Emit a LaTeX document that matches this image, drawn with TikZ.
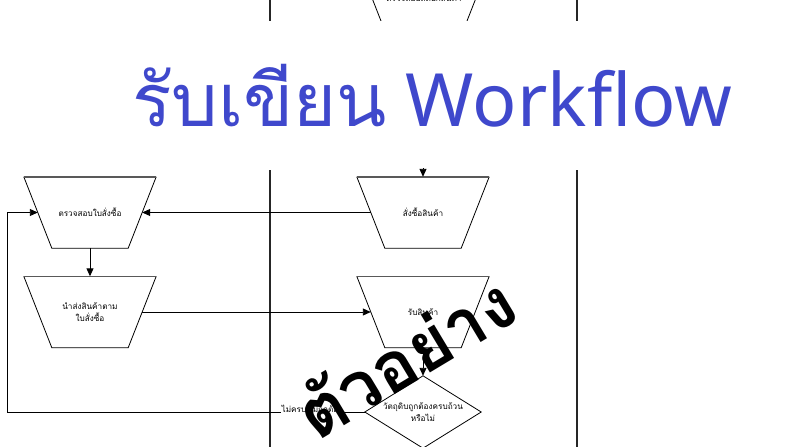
\documentclass[tikz,border=0pt]{standalone}
\usepackage{fontspec}
\setmainfont{Noto Sans}
\newfontfamily\thai[Script=Thai]{Loma}
\usetikzlibrary{arrows.meta,calc}
\definecolor{titleblue}{RGB}{63,72,204}
\tikzset{
  box/.style={rectangle, minimum width=132pt, minimum height=71pt, inner sep=0pt},
  trapline/.style={draw=black, line width=0.8pt},
  topedge/.style={draw=gray!70!black, line width=1.4pt},
  lbl/.style={font=\thai\fontsize{8.2}{12}\selectfont, align=center},
  conn/.style={line width=0.9pt, -{Triangle[length=8pt,width=7pt]}},
  lane/.style={draw=black!85, line width=1.5pt},
}
\newcommand{\mytrap}[4]{%
  \node[box] (#1) at (#2,#3) {};
  \node[lbl] (#1l) at (#1.center) {#4};
  \coordinate (#1w) at ($(#1.west)+(14,0)$);
  \coordinate (#1e) at ($(#1.east)+(-14,0)$);
  \draw[trapline] (#1.north west) -- ($(#1.south west)+(28,0)$) -- ($(#1.south east)+(-28,0)$) -- (#1.north east);
  \draw[topedge] (#1.north west) -- (#1.north east);
}
\begin{document}
\begin{tikzpicture}[x=1pt,y=-1pt]
\useasboundingbox[fill=white] (0,0) rectangle (795,447);
% lanes
\coordinate (la1) at (270,0); \coordinate (la2) at (270,20.5);
\coordinate (lb1) at (577,0); \coordinate (lb2) at (577,20.5);
\coordinate (la3) at (270,170); \coordinate (la4) at (270,447);
\coordinate (lb3) at (577,170); \coordinate (lb4) at (577,447);
\draw[lane] (la1) -- (la2); \draw[lane] (lb1) -- (lb2);
\draw[lane] (la3) -- (la4); \draw[lane] (lb3) -- (lb4);
% top partial shape
\begin{scope}
\clip (0,-5) rectangle (795,20.5);
\mytrap{t0}{424}{-2.5}{ตรวจสอบสต็อกสินค้า}
\end{scope}
% title
\node[font=\fontsize{73.5}{80}\selectfont, text=titleblue] (title) at (432,96) {{\thai รับเขียน} Workflow};
% shapes
\mytrap{t1}{90}{212.5}{ตรวจสอบใบสั่งซื้อ}
\mytrap{t2}{90}{312}{นำส่งสินค้าตาม\\ใบสั่งซื้อ}
\mytrap{t3}{423}{212.5}{สั่งซื้อสินค้า}
\mytrap{t4}{423}{312}{รับสินค้า}
% decision
\node[rectangle, minimum width=116pt, minimum height=72pt, inner sep=0pt] (d1) at (423,412) {};
\draw[trapline] (d1.north) -- (d1.east) -- (d1.south) -- (d1.west) -- cycle;
\node[lbl] (d1l) at (d1.center) {วัตถุดิบถูกต้องครบถ้วน\\หรือไม่};
% connectors
\coordinate (in3) at (423,168);
\draw[conn] (in3) -- (t3.north);
\draw[conn] (t3w) -- (t1e);
\draw[conn] (t1.south) -- (t2.north);
\draw[conn] (t2e) -- (t4w);
\draw[conn] (t4.south) -- (d1.north);
\coordinate (c1) at (7,412);
\coordinate (c2) at (7,212.5);
\draw[conn] (d1.west) -- (c1) -- (c2) -- (t1w);
\node[lbl, fill=white, inner sep=1pt] (nl) at (312,410) {ไม่ครบ/ไม่ถูกต้อง};
% watermark
\node[font=\thai\bfseries\fontsize{70}{76}\selectfont, rotate=31] (wm) at (405,356) {ตัวอย่าง};
\end{tikzpicture}
\end{document}
